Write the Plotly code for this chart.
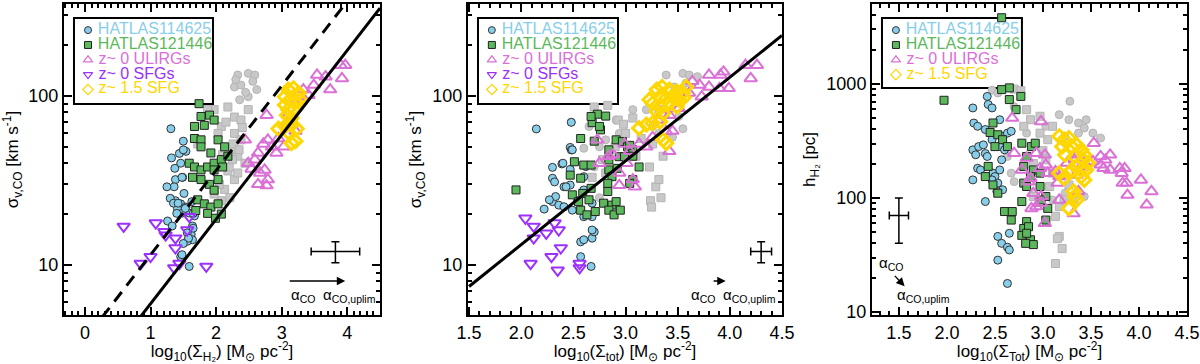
import numpy as np
import plotly.graph_objects as go

FONT = "Liberation Sans, Arial, Helvetica, sans-serif"

# ---------------- panel 1 : sigma vs log Sigma_H2 ----------------
p1_blue_x = [1.31, 1.54, 1.46, 1.49, 1.38, 1.36, 1.51, 1.38, 1.46, 1.54, 1.41, 1.59, 1.26, 1.33, 1.64,
             1.62, 1.64, 1.56, 1.46, 1.59, 1.49, 1.67, 1.44, 1.56, 1.50, 1.50, 1.32, 1.37, 1.48, 1.30,
             1.35, 1.42, 1.53, 1.40, 1.63, 1.65, 1.65, 1.58, 1.50, 1.48, 1.25]
p1_blue_y = [64, 47, 40, 33, 32, 29, 26.5, 24, 23, 22, 21.6, 20.3, 18.2, 17, 17,
             15.2, 14.1, 13.8, 11.2, 9.8, 20.3, 19.5, 45.7, 15.5, 54, 48, 43, 37.3, 33, 24.8,
             23.2, 23.2, 21.6, 20.2, 23.7, 20.2, 16.5, 14.4, 13.4, 11.5, 29]
p1_green_x = [1.77, 1.90, 1.82, 1.67, 1.97, 1.67, 1.77, 2.03, 2.13, 1.59, 1.67, 1.77, 1.87, 1.97, 2.08,
              2.18, 1.64, 1.77, 1.90, 2.03, 1.97, 1.72, 1.82, 1.92, 2.03, 1.69, 1.87, 1.99, 2.08, 1.77,
              1.92, 1.74, 1.97, 2.10]
p1_green_y = [75.6, 77, 67, 66, 72, 56, 55, 55, 50, 40, 38, 36.5, 38, 40, 42,
              44, 33, 32, 30, 32, 27.7, 24.3, 23, 22, 23, 21, 20.2, 18.9, 20, 50,
              46, 90, 36.5, 38]
p1_gcirc_x = [2.33, 2.49, 2.59, 2.28, 2.38, 2.56, 2.62, 2.49, 2.36, 2.45, 2.30]
p1_gcirc_y = [133, 136, 133, 113, 116, 122, 109, 99, 95, 105, 125]
p1_gsq_x = [1.97, 2.18, 2.28, 2.08, 2.28, 2.38, 2.23, 2.33, 2.44, 2.18, 2.28, 2.13, 2.08, 2.33, 1.87,
            2.03, 1.72, 2.38, 2.49, 2.26, 2.21, 1.97, 2.15, 2.40, 2.10, 2.20, 2.35, 2.05, 2.25]
p1_gsq_y = [83, 86, 75, 66, 60, 55, 48, 44, 40, 36, 32, 28, 24, 35, 83,
            60, 52, 72, 83, 52, 25, 26.3, 70, 65, 45, 38, 48, 30, 42]
p1_pink_x = [2.44, 2.77, 2.49, 2.54, 2.64, 2.72, 2.79, 2.85, 2.95, 2.67, 2.74, 2.79, 2.64, 2.77, 2.92,
             3.03, 3.10, 3.21, 3.33, 3.41, 3.54, 3.67, 3.74, 3.97, 3.90, 3.92, 3.49, 3.31, 3.15, 3.08,
             3.21, 2.59]
p1_pink_y = [55, 77, 40, 37, 46, 52, 55, 50, 56, 35, 36.5, 32, 30, 29.5, 46,
             50, 77, 90, 109, 101, 133, 130, 109, 152, 152, 127, 116, 99, 69, 66,
             62, 42]
p1_purple_x = [0.59, 0.85, 1.00, 1.08, 1.21, 1.23, 1.38, 1.38, 1.44, 1.36, 1.59, 1.56, 1.85]
p1_purple_y = [16.9, 10.2, 11.2, 17.7, 15.7, 15.0, 14.4, 12.6, 10.2, 9.6, 19.3, 16.1, 9.8]
p1_gold_x = [3.10, 3.18, 3.26, 3.05, 3.13, 3.21, 3.28, 3.05, 3.10, 3.18, 3.08, 3.15, 2.95, 3.05, 3.15,
             3.23, 3.21, 3.15, 3.10]
p1_gold_y = [109, 111, 104, 99, 95, 92.5, 95, 88.5, 83, 83, 77, 74, 64, 66, 67.6,
             64, 54, 52.6, 61]
p1_fit_x = [-0.3, 4.5]
p1_solid_y = [1.32, 331]
p1_dash_y = [2.57, 646]

# ---------------- panel 2 : sigma vs log Sigma_tot ----------------
p2_blue_x = [2.145, 2.48, 2.47, 2.48, 2.30, 2.39, 2.47, 2.62, 2.60, 2.41, 2.47, 2.60, 2.30, 2.36, 2.41,
             2.49, 2.68, 2.60, 2.68, 2.33, 2.57, 2.60, 2.68, 2.70, 2.67, 2.57, 2.22, 2.30, 2.32, 2.27,
             2.40, 2.49, 2.43, 2.54, 2.68]
p2_blue_y = [63.8, 69.8, 49.6, 47.9, 37.8, 39.6, 36.8, 38.2, 33.3, 29, 29.7, 27.8, 23.7, 22.6, 22.1,
             21.1, 23.2, 19.3, 19.3, 25.4, 13.7, 14.1, 14.4, 15.7, 9.8, 11.2, 21.4, 32.6, 31, 24.3,
             40, 48, 29, 24, 16.1]
p2_green_x = [1.95, 2.73, 2.81, 2.68, 2.76, 2.70, 2.51, 2.60, 2.67, 2.47, 2.57, 2.49, 2.59, 2.67, 2.55,
              2.65, 2.57, 2.63, 2.71, 2.83, 2.79, 2.84, 2.91, 2.97, 3.02, 2.84, 2.94, 2.99, 3.07, 2.84,
              2.92, 2.87, 2.83, 2.87, 2.91, 2.84, 2.89, 2.95, 2.67, 2.75, 2.57, 3.04, 3.07, 3.13, 3.07,
              3.04]
p2_green_y = [27.8, 78, 76, 69.5, 63, 54, 40.8, 39, 39, 34, 32.6, 26, 26.5, 28.4, 23.7,
              24.3, 21.1, 19.8, 20.7, 27.2, 23.2, 48, 55, 53.7, 50, 41.8, 43.7, 43.7, 48, 36.5,
              37.3, 33.3, 30.4, 22.6, 23.7, 21.1, 19.8, 21.1, 75.6, 66, 56, 51, 44, 38, 32,
              30.4]
p2_gcirc_x = [3.39, 3.55, 3.61, 3.69, 3.47, 3.58, 2.48, 2.65, 2.81, 2.75, 2.91, 3.07, 3.20, 3.26, 3.51,
              3.55, 3.45, 3.32, 2.94, 2.70, 2.83, 2.75, 2.60]
p2_gcirc_y = [133, 136, 133, 130, 113, 119, 70, 66, 55, 50, 72, 83, 83, 66, 75.6,
              64, 57, 60, 60, 38, 29, 25, 49]
p2_gsq_x = [2.83, 2.70, 2.93, 3.07, 3.00, 3.29, 3.32, 3.24, 3.25, 2.84, 2.78, 3.10, 2.81, 2.68, 3.26,
            3.36, 3.23, 3.34, 3.32, 2.98, 3.15, 2.90]
p2_gsq_y = [88, 86, 72, 74, 60, 29, 32, 24, 22, 44, 42, 44, 35, 33, 52,
            44, 38, 25, 83, 68, 56, 50]
p2_pink_x = [2.73, 2.75, 2.84, 2.88, 2.94, 3.01, 2.99, 3.04, 3.07, 3.09, 2.94, 3.13, 3.20, 3.26, 3.31,
             3.36, 3.42, 3.39, 3.42, 3.45, 3.51, 3.61, 3.64, 3.71, 3.80, 3.91, 3.94, 3.99, 3.90, 4.15,
             4.26, 4.20, 3.80, 3.73]
p2_pink_y = [55, 40, 44, 45, 35, 40, 52, 47, 32, 29, 29.6, 52, 50, 57, 72,
             77, 77, 61.6, 47, 62, 84.5, 104, 122, 116, 133, 133, 139, 111, 111, 152,
             152, 127, 113, 99]
p2_purple_x = [2.04, 2.12, 2.12, 2.24, 2.32, 2.36, 2.38, 2.29, 2.09, 2.35, 2.56, 2.56]
p2_purple_y = [18.9, 16.9, 14.4, 15.4, 17.7, 16.1, 12.6, 11.2, 10.2, 9.3, 10.2, 9.6]
p2_gold_x = [3.23, 3.30, 3.35, 3.42, 3.49, 3.55, 3.33, 3.39, 3.45, 3.51, 3.26, 3.33, 3.42, 3.49, 3.30,
             3.36, 3.13, 3.20, 3.26, 3.33, 3.36, 3.39, 3.58, 3.56]
p2_gold_y = [95, 109, 113, 109, 106, 104, 99, 97, 99, 95, 90.5, 86.5, 90.5, 86.5, 80.8,
             78.9, 64.5, 67.6, 69, 70.5, 55, 52.6, 113, 98]
p2_fit_x = [1.5, 4.5]
p2_fit_y = [7.46, 228]

# ---------------- panel 3 : h_H2 vs log Sigma_Tot ----------------
p3_blue_x = [2.27, 2.28, 2.32, 2.27, 2.30, 2.33, 2.32, 2.35, 2.27, 2.42, 2.43, 2.47, 2.40, 2.47, 2.38,
             2.40, 2.42, 2.48, 2.50, 2.47, 2.53, 2.40, 2.55, 2.57, 2.55, 2.63, 2.67, 2.60, 2.57, 2.58,
             2.53, 2.57, 2.53, 2.63, 2.65, 2.63, 2.55, 2.52, 2.65]
p3_blue_y = [615, 454, 425, 264, 239, 282, 182, 176, 144, 776, 660, 615, 398, 324, 292,
             245, 231, 165, 154, 144, 135, 93, 485, 347, 282, 370, 384, 264, 216, 118,
             46, 40, 28.5, 37, 35, 17.8, 176, 114, 49]
p3_green_x = [2.57, 1.97, 2.48, 2.45, 2.53, 2.58, 2.50, 2.63, 2.65, 2.57, 2.65, 2.77, 2.72, 2.43, 2.40,
              2.48, 2.53, 2.60, 2.68, 2.67, 2.78, 2.88, 2.92, 2.83, 2.80, 2.90, 2.80, 2.83, 2.87, 2.97,
              2.97, 3.03, 2.98, 3.05, 3.03, 2.78, 2.83, 2.80, 2.85, 2.78, 2.87, 2.83, 2.90, 2.82]
p3_green_y = [3800, 718, 454, 375, 358, 324, 282, 282, 922, 891, 728, 776, 594, 189, 154,
              130, 110, 76, 76, 64, 302, 282, 302, 231, 189, 176, 135, 126, 154, 165,
              126, 103, 96, 81, 64, 93, 62, 54, 56, 47, 43, 49, 39, 40]
p3_gcirc_x = [2.47, 2.53, 2.70, 3.28, 3.17, 3.27, 3.37, 3.45, 3.43, 3.52, 3.60, 3.37, 3.03, 2.83, 2.63,
              2.67, 2.70, 2.90, 3.10, 3.23, 3.33, 3.43, 3.17, 3.03, 3.23]
p3_gcirc_y = [880, 832, 631, 703, 537, 485, 454, 485, 410, 370, 335, 370, 425, 370, 231,
              165, 139, 110, 96, 110, 96, 103, 154, 231, 347]
p3_gsq_x = [2.70, 2.77, 2.83, 2.87, 2.80, 2.97, 3.05, 3.10, 2.97, 3.03, 3.10, 3.07, 3.17, 3.13, 3.17,
            3.15, 3.20, 3.13, 2.90, 3.27, 3.22, 2.90, 3.00]
p3_gsq_y = [900, 870, 594, 485, 425, 370, 324, 425, 520, 216, 165, 126, 84, 69, 46,
            44, 36, 26.6, 103, 130, 96, 200, 260]
p3_pink_x = [2.68, 2.98, 2.70, 2.78, 2.83, 2.93, 3.02, 2.87, 2.85, 2.90, 2.88, 2.93, 2.98, 2.98, 3.02,
             2.97, 3.03, 3.05, 3.13, 3.17, 3.15, 3.17, 3.25, 3.33, 3.35, 3.43, 3.37, 3.42, 3.35, 3.32,
             3.37, 3.53, 3.52, 3.60, 3.60, 3.63, 3.70, 3.70, 3.80, 3.82, 3.85, 3.83, 3.87, 3.88, 4.02,
             4.08, 4.13, 3.65]
p3_pink_y = [501, 468, 247, 176, 224, 247, 239, 149, 139, 110, 81, 84, 103, 90, 60,
             182, 195, 165, 171, 154, 135, 96, 202, 216, 239, 202, 176, 189, 159, 73,
             114, 302, 209, 231, 195, 182, 239, 176, 182, 165, 182, 135, 135, 106, 144,
             87, 114, 216]
p3_gold_x = [3.17, 3.22, 3.27, 3.20, 3.30, 3.35, 3.40, 3.43, 3.23, 3.33, 3.42, 3.47, 3.35, 3.40, 3.45,
             3.17, 3.27, 3.22, 3.30, 3.40, 3.43, 3.32, 3.33, 3.35, 3.27]
p3_gold_y = [347, 324, 335, 282, 282, 292, 264, 239, 239, 231, 216, 202, 189, 176, 176,
             165, 165, 149, 176, 154, 144, 114, 103, 96, 81]

# typical uncertainties (x, y, dx, dy-, dy+)
p1_err = [3.82, 12.0, 0.37, 1.7, 1.7]
p2_err = [4.30, 12.0, 0.10, 1.7, 1.7]
p3_err = [1.50, 70.0, 0.10, 30.0, 30.0]

legend_labels = ["HATLAS114625", "HATLAS121446", "z~ 0 ULIRGs", "z~ 0 SFGs", "z~ 1.5 SFG"]

# ---------------- styles ----------------
BLUE = "#87ceeb"
GREEN = "#5cb85c"
PINK = "#da70d6"
PURPLE = "#9b30ff"
GOLD = "#ffd700"
GRAY = "#c8c8c8"

styles = {
    "blue": dict(symbol="circle", size=8, color=BLUE, line=dict(color="#333333", width=1)),
    "green": dict(symbol="square", size=8, color=GREEN, line=dict(color="#222222", width=1)),
    "pink": dict(symbol="triangle-up-open", size=11, color=PINK, line=dict(color=PINK, width=2)),
    "purple": dict(symbol="triangle-down-open", size=11, color=PURPLE, line=dict(color=PURPLE, width=2)),
    "gold": dict(symbol="diamond-open", size=10, color=GOLD, line=dict(color=GOLD, width=3)),
    "gcirc": dict(symbol="circle", size=8, color=GRAY, line=dict(color="#b4b4b4", width=1)),
    "gsq": dict(symbol="square", size=8, color=GRAY, line=dict(color="#b4b4b4", width=1)),
}

fig = go.Figure()


def pts(x, y, key, xa, ya):
    fig.add_trace(go.Scatter(x=x, y=y, mode="markers", marker=styles[key],
                             xaxis=xa, yaxis=ya, showlegend=False, hoverinfo="skip"))


def err(e, xa, ya):
    fig.add_trace(go.Scatter(
        x=[e[0]], y=[e[1]], mode="markers", marker=dict(size=0.1, color="black"),
        error_x=dict(type="constant", value=e[2], color="black", thickness=1.5, width=4),
        error_y=dict(type="data", array=[e[4]], arrayminus=[e[3]], color="black", thickness=1.5, width=4),
        xaxis=xa, yaxis=ya, showlegend=False, hoverinfo="skip"))


# panel 1
pts(p1_gcirc_x, p1_gcirc_y, "gcirc", "x", "y")
pts(p1_gsq_x, p1_gsq_y, "gsq", "x", "y")
pts(p1_blue_x, p1_blue_y, "blue", "x", "y")
pts(p1_green_x, p1_green_y, "green", "x", "y")
pts(p1_pink_x, p1_pink_y, "pink", "x", "y")
pts(p1_purple_x, p1_purple_y, "purple", "x", "y")
pts(p1_gold_x, p1_gold_y, "gold", "x", "y")
fig.add_trace(go.Scatter(x=p1_fit_x, y=p1_dash_y, mode="lines", line=dict(color="black", width=3, dash="12px,8px"),
                         xaxis="x", yaxis="y", showlegend=False))
fig.add_trace(go.Scatter(x=p1_fit_x, y=p1_solid_y, mode="lines", line=dict(color="black", width=3),
                         xaxis="x", yaxis="y", showlegend=False))
err(p1_err, "x", "y")

# panel 2
pts(p2_gcirc_x, p2_gcirc_y, "gcirc", "x2", "y2")
pts(p2_gsq_x, p2_gsq_y, "gsq", "x2", "y2")
pts(p2_blue_x, p2_blue_y, "blue", "x2", "y2")
pts(p2_green_x, p2_green_y, "green", "x2", "y2")
pts(p2_pink_x, p2_pink_y, "pink", "x2", "y2")
pts(p2_purple_x, p2_purple_y, "purple", "x2", "y2")
pts(p2_gold_x, p2_gold_y, "gold", "x2", "y2")
fig.add_trace(go.Scatter(x=p2_fit_x, y=p2_fit_y, mode="lines", line=dict(color="black", width=3),
                         xaxis="x2", yaxis="y2", showlegend=False))
err(p2_err, "x2", "y2")

# panel 3
pts(p3_gcirc_x, p3_gcirc_y, "gcirc", "x3", "y3")
pts(p3_gsq_x, p3_gsq_y, "gsq", "x3", "y3")
pts(p3_blue_x, p3_blue_y, "blue", "x3", "y3")
pts(p3_green_x, p3_green_y, "green", "x3", "y3")
pts(p3_pink_x, p3_pink_y, "pink", "x3", "y3")
pts(p3_gold_x, p3_gold_y, "gold", "x3", "y3")
err(p3_err, "x3", "y3")

# legends drawn on hidden overlay axes (0..1 in each panel)
leg_keys = ["blue", "green", "pink", "purple", "gold"]
leg_colors = [BLUE, GREEN, PINK, PURPLE, GOLD]
leg_sym = {"blue": dict(symbol="circle", size=7, color=BLUE, line=dict(color="#333", width=1)),
           "green": dict(symbol="square", size=7, color=GREEN, line=dict(color="#222", width=1)),
           "pink": dict(symbol="triangle-up-open", size=8, color=PINK, line=dict(color=PINK, width=1.2)),
           "purple": dict(symbol="triangle-down-open", size=8, color=PURPLE, line=dict(color=PURPLE, width=1.2)),
           "gold": dict(symbol="diamond-open", size=8, color=GOLD, line=dict(color=GOLD, width=1.2))}
row_top, row_step, mark_x = 0.916, 0.0477, 0.076
for p, keys in ((1, leg_keys), (2, leg_keys), (3, ["blue", "green", "pink", "gold"])):
    for i, k in enumerate(keys):
        j = leg_keys.index(k)
        fig.add_trace(go.Scatter(
            x=[mark_x], y=[row_top - i * row_step], mode="markers+text",
            text=[" " + legend_labels[j]], textposition="middle right",
            textfont=dict(family=FONT, size=16, color=leg_colors[j]),
            marker=leg_sym[k], xaxis="x%d" % (p + 3), yaxis="y%d" % (p + 3),
            showlegend=False, hoverinfo="skip", cliponaxis=False))

# ---------------- layout ----------------
dom = [[0.0, 0.28139], [0.35975, 0.63936], [0.71950, 1.0]]
minor_y = [6, 7, 8, 9, 20, 30, 40, 50, 60, 70, 80, 90, 200, 300, 400, 500, 600, 700, 800, 900,
           2000, 3000, 4000]

axis_common = dict(showline=True, linecolor="black", linewidth=2, mirror="allticks",
                   ticks="inside", ticklen=8, tickwidth=2, tickcolor="black", showgrid=False,
                   zeroline=False, automargin=False,
                   tickfont=dict(family=FONT, size=18, color="black"),
                   title_font=dict(family=FONT, size=17, color="black"))

sub = "<sub>%s</sub>"
xtitles = ["log" + sub % "10" + "(Σ" + sub % "H₂" + ") [M" + sub % "⊙" + " pc<sup>-2</sup>]",
           "log" + sub % "10" + "(Σ" + sub % "tot" + ") [M" + sub % "⊙" + " pc<sup>-2</sup>]",
           "log" + sub % "10" + "(Σ" + sub % "Tot" + ") [M" + sub % "⊙" + " pc<sup>-2</sup>]"]
ytitles = ["σ" + sub % "v,CO" + " [km s<sup>-1</sup>]",
           "σ" + sub % "v,CO" + " [km s<sup>-1</sup>]",
           "h" + sub % "H₂" + " [pc]"]
xranges = [[-0.32, 4.5], [1.49, 4.5], [1.22, 4.5]]
xticks = [[0, 1, 2, 3, 4], [1.5, 2.0, 2.5, 3.0, 3.5, 4.0, 4.5], [1.5, 2.0, 2.5, 3.0, 3.5, 4.0, 4.5]]
xticktext = [["0", "1", "2", "3", "4"], ["1.5", "2.0", "2.5", "3.0", "3.5", "4.0", "4.5"],
             ["1.5", "2.0", "2.5", "3.0", "3.5", "4.0", "4.5"]]
yranges = [[0.704, 2.544], [0.704, 2.544], [0.974, 3.70]]
yticks = [[10, 100], [10, 100], [10, 100, 1000]]

lay = {}
for i in range(3):
    n = "" if i == 0 else str(i + 1)
    lay["xaxis" + n] = dict(axis_common, domain=dom[i], range=xranges[i], tickvals=xticks[i],
                            ticktext=xticktext[i], anchor="y" + n,
                            minor=dict(dtick=0.1, ticklen=4, tickwidth=1.5, tickcolor="black", ticks="inside"),
                            title=dict(text=xtitles[i], standoff=4))
    lay["yaxis" + n] = dict(axis_common, domain=[0, 1], type="log", range=yranges[i], tickvals=yticks[i],
                            ticktext=[str(v) for v in yticks[i]], anchor="x" + n,
                            minor=dict(tickvals=minor_y, ticklen=4, tickwidth=1.5, tickcolor="black", ticks="inside"),
                            title=dict(text=ytitles[i], standoff=6))
    lay["xaxis%d" % (i + 4)] = dict(overlaying="x" + n, range=[0, 1], visible=False, anchor="y%d" % (i + 4))
    lay["yaxis%d" % (i + 4)] = dict(overlaying="y" + n, range=[0, 1], visible=False, anchor="x%d" % (i + 4))

fig.update_layout(**lay)

# legend boxes
boxes = [(0.0316, 0.4715, 0.6785, 0.955), (0.0318, 0.4777, 0.6785, 0.955), (0.0317, 0.476, 0.730, 0.955)]
for i, b in enumerate(boxes):
    n = "" if i == 0 else str(i + 1)
    fig.add_shape(type="rect", xref="x%s domain" % n, yref="y%s domain" % n,
                  x0=b[0], x1=b[1], y0=b[2], y1=b[3], line=dict(color="black", width=2),
                  fillcolor="white", layer="below")

# alpha_CO arrows and labels
arrows = [("x", "y", 3.10, 8.04, 3.97, 8.04, 3.33, 6.6, 4.03, 6.6),
          ("x2", "y2", 3.83, 8.04, 3.96, 8.04, 3.74, 6.6, 4.19, 6.6),
          ("x3", "y3", 1.443, 21.4, 1.56, 16.8, 1.42, 26.6, 1.76, 14.0)]
for xa, ya, x0, y0, x1, y1, lx0, ly0, lx1, ly1 in arrows:
    fig.add_annotation(x=x1, y=np.log10(y1), ax=x0, ay=np.log10(y0), xref=xa, yref=ya,
                       axref=xa, ayref=ya, text="", showarrow=True, arrowhead=2,
                       arrowsize=1.3, arrowwidth=1.3, arrowcolor="black")
    fig.add_annotation(x=lx0, y=np.log10(ly0), xref=xa, yref=ya, showarrow=False,
                       text="α<sub>CO</sub>", font=dict(family=FONT, size=15, color="black"))
    fig.add_annotation(x=lx1, y=np.log10(ly1), xref=xa, yref=ya, showarrow=False,
                       text="α<sub>CO,uplim</sub>", font=dict(family=FONT, size=15, color="black"))

fig.update_layout(width=1200, height=364, margin=dict(l=64, r=13, t=4, b=49, autoexpand=False),
                  plot_bgcolor="white", paper_bgcolor="white", showlegend=False,
                  font=dict(family=FONT, color="black"))

fig.write_html("out.html", config={"displayModeBar": False},
               post_script="document.body.style.margin='0';")
